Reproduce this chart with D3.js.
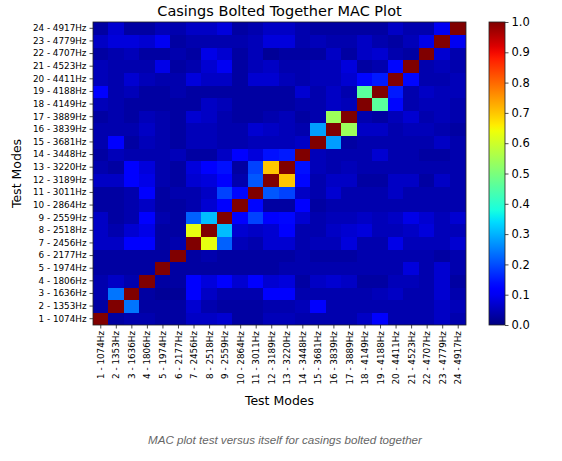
<!DOCTYPE html>
<meta charset="utf-8">
<html>
<head>
<script src="https://d3js.org/d3.v7.min.js"></script>
<style>
  body { margin: 0; background: white; }
  text { font-family: "DejaVu Sans", sans-serif; fill: #000; }
  .caption { font-family: "Liberation Sans", Arial, sans-serif; font-style: italic; fill: #666; }
</style>
</head>
<body>
<svg id="mac"></svg>
<script>
// test modes, bottom to top
var modes = ["1 - 1074Hz", "2 - 1353Hz", "3 - 1636Hz", "4 - 1806Hz", "5 - 1974Hz", "6 - 2177Hz",
  "7 - 2456Hz", "8 - 2518Hz", "9 - 2559Hz", "10 - 2864Hz", "11 - 3011Hz", "12 - 3189Hz",
  "13 - 3220Hz", "14 - 3448Hz", "15 - 3681Hz", "16 - 3839Hz", "17 - 3889Hz", "18 - 4149Hz",
  "19 - 4188Hz", "20 - 4411Hz", "21 - 4523Hz", "22 - 4707Hz", "23 - 4779Hz", "24 - 4917Hz"];

// MAC values, one row per mode (row i = mode i+1), columns mode 1..24
var mac = [
  [1.00,0.03,0.04,0.04,0.03,0.03,0.06,0.06,0.07,0.03,0.03,0.05,0.05,0.04,0.04,0.04,0.04,0.06,0.11,0.04,0.04,0.04,0.06,0.04],
  [0.03,1.00,0.24,0.03,0.03,0.03,0.07,0.04,0.03,0.03,0.03,0.04,0.04,0.05,0.12,0.04,0.04,0.04,0.04,0.04,0.04,0.04,0.06,0.05],
  [0.04,0.24,1.00,0.03,0.02,0.02,0.12,0.06,0.04,0.04,0.04,0.12,0.12,0.04,0.04,0.04,0.04,0.04,0.05,0.06,0.04,0.04,0.07,0.04],
  [0.04,0.06,0.04,1.00,0.03,0.03,0.12,0.08,0.11,0.07,0.12,0.07,0.08,0.03,0.06,0.07,0.06,0.03,0.03,0.05,0.05,0.04,0.07,0.03],
  [0.03,0.03,0.03,0.03,1.00,0.03,0.03,0.03,0.03,0.03,0.03,0.03,0.04,0.04,0.04,0.04,0.04,0.04,0.04,0.04,0.08,0.04,0.07,0.04],
  [0.03,0.03,0.03,0.03,0.03,1.00,0.03,0.04,0.03,0.03,0.03,0.03,0.03,0.04,0.03,0.03,0.03,0.04,0.04,0.04,0.04,0.04,0.03,0.04],
  [0.06,0.06,0.11,0.11,0.03,0.04,1.00,0.63,0.22,0.05,0.04,0.07,0.07,0.04,0.05,0.05,0.08,0.04,0.04,0.09,0.05,0.05,0.05,0.07],
  [0.06,0.04,0.07,0.09,0.03,0.03,0.63,1.00,0.31,0.07,0.06,0.07,0.11,0.04,0.04,0.06,0.07,0.08,0.05,0.05,0.06,0.08,0.05,0.05],
  [0.06,0.03,0.04,0.11,0.04,0.03,0.22,0.31,1.00,0.12,0.19,0.11,0.13,0.07,0.04,0.05,0.05,0.06,0.05,0.06,0.09,0.07,0.05,0.07],
  [0.03,0.03,0.04,0.06,0.03,0.03,0.04,0.07,0.12,1.00,0.13,0.03,0.03,0.12,0.03,0.04,0.04,0.04,0.04,0.04,0.04,0.04,0.04,0.04],
  [0.03,0.03,0.04,0.12,0.03,0.04,0.04,0.06,0.19,0.13,1.00,0.21,0.19,0.06,0.04,0.07,0.04,0.04,0.04,0.06,0.04,0.04,0.04,0.04],
  [0.06,0.06,0.11,0.09,0.04,0.03,0.07,0.08,0.11,0.04,0.21,1.00,0.70,0.13,0.04,0.06,0.06,0.03,0.03,0.06,0.06,0.03,0.06,0.04],
  [0.04,0.03,0.12,0.08,0.04,0.03,0.08,0.12,0.14,0.03,0.19,0.70,1.00,0.14,0.05,0.04,0.05,0.04,0.04,0.04,0.04,0.04,0.04,0.04],
  [0.03,0.05,0.04,0.04,0.04,0.05,0.03,0.03,0.06,0.12,0.08,0.14,0.15,1.00,0.05,0.04,0.04,0.04,0.07,0.04,0.04,0.03,0.03,0.04],
  [0.04,0.12,0.03,0.05,0.04,0.03,0.05,0.05,0.04,0.04,0.05,0.05,0.05,0.06,1.00,0.28,0.03,0.04,0.04,0.04,0.04,0.04,0.06,0.04],
  [0.04,0.04,0.04,0.06,0.04,0.03,0.05,0.05,0.04,0.04,0.07,0.06,0.05,0.04,0.28,1.00,0.54,0.06,0.06,0.04,0.05,0.05,0.04,0.03],
  [0.03,0.04,0.03,0.05,0.04,0.03,0.07,0.06,0.04,0.03,0.03,0.04,0.05,0.03,0.04,0.54,1.00,0.04,0.03,0.05,0.07,0.04,0.05,0.04],
  [0.05,0.04,0.03,0.03,0.03,0.03,0.03,0.06,0.05,0.03,0.03,0.03,0.03,0.04,0.04,0.06,0.05,1.00,0.46,0.13,0.04,0.05,0.05,0.04],
  [0.11,0.04,0.05,0.03,0.03,0.04,0.03,0.03,0.03,0.03,0.03,0.03,0.03,0.07,0.04,0.06,0.04,0.46,1.00,0.15,0.04,0.06,0.05,0.05],
  [0.05,0.04,0.07,0.05,0.04,0.04,0.08,0.06,0.06,0.03,0.07,0.07,0.05,0.04,0.05,0.05,0.07,0.13,0.15,1.00,0.13,0.04,0.04,0.05],
  [0.05,0.04,0.04,0.04,0.09,0.03,0.04,0.07,0.10,0.03,0.05,0.06,0.04,0.04,0.05,0.05,0.08,0.03,0.04,0.13,1.00,0.04,0.05,0.04],
  [0.03,0.04,0.05,0.03,0.03,0.04,0.03,0.09,0.07,0.03,0.05,0.02,0.03,0.03,0.03,0.06,0.03,0.06,0.07,0.04,0.03,1.00,0.07,0.04],
  [0.06,0.08,0.08,0.07,0.10,0.03,0.04,0.04,0.04,0.04,0.05,0.08,0.08,0.04,0.05,0.04,0.04,0.06,0.04,0.03,0.05,0.09,1.00,0.10],
  [0.03,0.07,0.03,0.03,0.05,0.04,0.06,0.06,0.08,0.03,0.04,0.06,0.06,0.04,0.03,0.03,0.03,0.03,0.03,0.06,0.04,0.04,0.10,1.00]
];

var colorTicks = [0.0, 0.1, 0.2, 0.3, 0.4, 0.5, 0.6, 0.7, 0.8, 0.9, 1.0];

var W = 562, H = 461;
var plot = {left: 93, top: 22, width: 373, height: 303};
var bar = {left: 489, width: 16};

var svg = d3.select("#mac").attr("width", W).attr("height", H);

// jet colormap, built channel by channel
var jetR = d3.scaleLinear().domain([0, 0.35, 0.66, 0.89, 1]).range([0, 0, 1, 1, 0.5]).clamp(true);
var jetG = d3.scaleLinear().domain([0, 0.125, 0.375, 0.64, 0.91, 1]).range([0, 0, 1, 1, 0, 0]).clamp(true);
var jetB = d3.scaleLinear().domain([0, 0.11, 0.34, 0.65, 1]).range([0.5, 1, 1, 0, 0]).clamp(true);
function jet(v) {
  return d3.rgb(jetR(v) * 255, jetG(v) * 255, jetB(v) * 255).toString();
}

var x = d3.scaleBand().domain(modes).range([plot.left, plot.left + plot.width]);
var y = d3.scaleBand().domain(modes).range([plot.top + plot.height, plot.top]);

var cells = [];
mac.forEach(function(row, i) {
  row.forEach(function(v, j) {
    cells.push({row: modes[i], col: modes[j], value: v});
  });
});

svg.append("g")
  .attr("shape-rendering", "crispEdges")
  .selectAll("rect")
  .data(cells)
  .enter().append("rect")
    .attr("x", function(d) { return Math.floor(x(d.col)); })
    .attr("y", function(d) { return Math.floor(y(d.row)); })
    .attr("width", function(d) { return Math.ceil(x(d.col) + x.bandwidth()) - Math.floor(x(d.col)); })
    .attr("height", function(d) { return Math.ceil(y(d.row) + y.bandwidth()) - Math.floor(y(d.row)); })
    .attr("fill", function(d) { return jet(d.value); });

svg.append("rect")
  .attr("x", plot.left).attr("y", plot.top)
  .attr("width", plot.width).attr("height", plot.height)
  .attr("fill", "none").attr("stroke", "#222").attr("stroke-width", 0.8);

// axes
var xAxis = svg.append("g")
  .attr("transform", "translate(0," + (plot.top + plot.height) + ")")
  .call(d3.axisBottom(x).tickSize(3.5).tickPadding(3));
xAxis.selectAll("text")
  .attr("transform", "rotate(-90)")
  .attr("x", -6).attr("y", 0).attr("dy", "0.35em")
  .style("text-anchor", "end");

var yAxis = svg.append("g")
  .attr("transform", "translate(" + plot.left + ",0)")
  .call(d3.axisLeft(y).tickSize(3.5).tickPadding(3));

[xAxis, yAxis].forEach(function(a) {
  a.select(".domain").remove();
  a.selectAll("line").attr("stroke", "#222").attr("stroke-width", 0.8);
  a.selectAll("text").attr("font-size", "8.8px").attr("font-family", "DejaVu Sans").attr("fill", "#222");
});

// titles
svg.append("text")
  .attr("x", plot.left + plot.width / 2).attr("y", 16)
  .attr("text-anchor", "middle").attr("font-size", "14.5px")
  .text("Casings Bolted Together MAC Plot");

svg.append("text")
  .attr("x", plot.left + plot.width / 2).attr("y", 405)
  .attr("text-anchor", "middle").attr("font-size", "12.5px")
  .text("Test Modes");

svg.append("text")
  .attr("transform", "translate(21," + (plot.top + plot.height / 2) + ")rotate(-90)")
  .attr("text-anchor", "middle").attr("font-size", "12.5px")
  .text("Test Modes");

// colorbar
var c = d3.scaleLinear().domain([0, 1]).range([plot.top + plot.height, plot.top]);
var defs = svg.append("defs");
var grad = defs.append("linearGradient").attr("id", "jetGrad")
  .attr("x1", 0).attr("y1", 1).attr("x2", 0).attr("y2", 0);
d3.range(0, 1.0001, 0.02).forEach(function(t) {
  grad.append("stop").attr("offset", t).attr("stop-color", jet(t));
});
svg.append("rect")
  .attr("x", bar.left).attr("y", plot.top)
  .attr("width", bar.width).attr("height", plot.height)
  .attr("fill", "url(#jetGrad)")
  .attr("stroke", "#222").attr("stroke-width", 0.8);

var cAxis = svg.append("g")
  .attr("transform", "translate(" + (bar.left + bar.width) + ",0)")
  .call(d3.axisRight(c).tickValues(colorTicks).tickFormat(d3.format(".1f")).tickSize(3.5).tickPadding(3));
cAxis.select(".domain").remove();
cAxis.selectAll("line").attr("stroke", "#222").attr("stroke-width", 0.8);
cAxis.selectAll("text").attr("font-size", "11.5px").attr("font-family", "DejaVu Sans").attr("fill", "#222");

// caption
svg.append("text")
  .attr("class", "caption")
  .attr("x", 285).attr("y", 444)
  .attr("text-anchor", "middle").attr("font-size", "11.6px")
  .text("MAC plot test versus itself for casings bolted together");
</script>
</body>
</html>
